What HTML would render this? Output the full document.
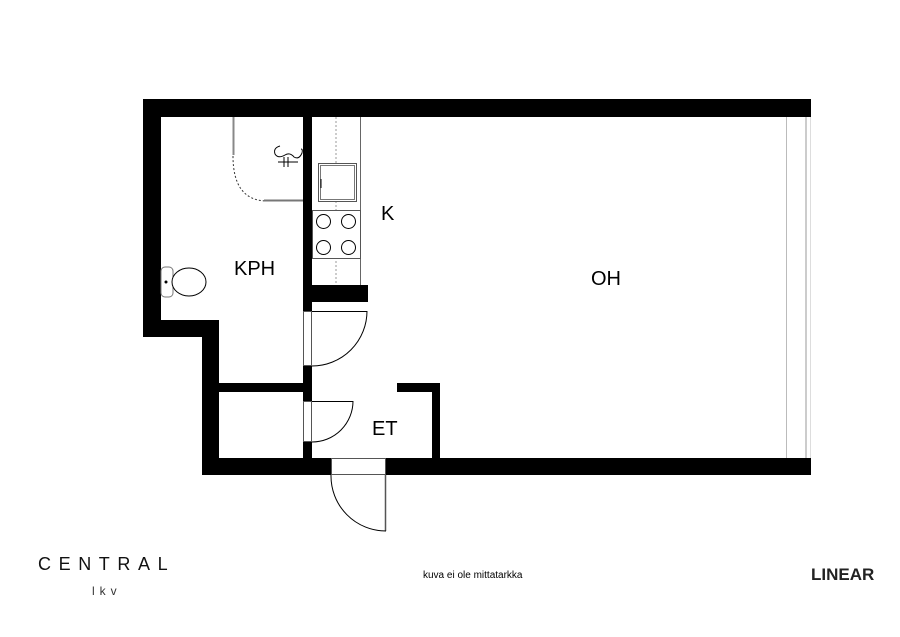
<!DOCTYPE html>
<html><head><meta charset="utf-8"><style>
html,body{margin:0;padding:0;background:#fff;width:900px;height:637px;overflow:hidden}
svg{display:block}
text{font-family:"Liberation Sans",sans-serif}
</style></head><body>
<svg width="900" height="637" viewBox="0 0 900 637" xmlns="http://www.w3.org/2000/svg">
<rect width="900" height="637" fill="#fff"/>
<g fill="#000">
<rect x="143" y="99" width="668" height="18"/>
<rect x="143" y="99" width="18" height="238"/>
<rect x="143" y="320" width="76" height="17"/>
<rect x="202" y="320" width="17" height="155"/>
<rect x="202" y="458" width="129" height="17"/>
<rect x="386" y="458" width="425" height="17"/>
<rect x="303" y="117" width="9" height="194"/>
<rect x="303" y="366" width="9" height="35"/>
<rect x="303" y="442" width="9" height="16"/>
<rect x="218" y="383" width="85" height="9"/>
<rect x="312" y="285" width="56" height="17"/>
<rect x="397" y="383" width="43" height="9"/>
<rect x="432" y="383" width="8" height="75"/>
</g>
<rect x="786" y="117" width="24" height="341" fill="#fff"/>
<line x1="786.5" y1="117" x2="786.5" y2="458" stroke="#bbb" stroke-width="1"/>
<line x1="806" y1="117" x2="806" y2="458" stroke="#ccc" stroke-width="2"/>
<line x1="810.5" y1="117" x2="810.5" y2="458" stroke="#ddd" stroke-width="1"/>
<g fill="none" stroke="#000" stroke-width="1">
<rect x="303.5" y="311.5" width="8" height="54" fill="#fff" stroke="#555"/>
<line x1="312" y1="311.5" x2="367" y2="311.5"/>
<path d="M367 311 A55 55 0 0 1 312 366"/>
<rect x="303.5" y="401.5" width="8" height="40" fill="#fff" stroke="#555"/>
<line x1="312" y1="401.5" x2="353" y2="401.5"/>
<path d="M353 401 A41 41 0 0 1 312 442"/>
<rect x="331.5" y="458.5" width="54" height="16" fill="#fff" stroke="#555"/>
<line x1="385.5" y1="475" x2="385.5" y2="531" stroke="#555" stroke-width="1.5"/>
<path d="M331 475 A55 55 0 0 0 386 531"/>
</g>
<g fill="none" stroke="#666" stroke-width="1">
<line x1="360.5" y1="117" x2="360.5" y2="285"/>
<line x1="336" y1="117" x2="336" y2="285" stroke="#999" stroke-dasharray="2,2"/>
<rect x="318.5" y="163.5" width="38" height="38" fill="#fff" stroke="#555"/>
<rect x="320.5" y="165.5" width="34" height="34" stroke="#777"/>
<line x1="321" y1="179" x2="321" y2="188" stroke="#000"/>
<rect x="312.5" y="210.5" width="48" height="48" fill="#fff" stroke="#555"/>
<circle cx="323.5" cy="221.5" r="7" stroke="#000"/>
<circle cx="348.5" cy="221.5" r="7" stroke="#000"/>
<circle cx="323.5" cy="247.5" r="7" stroke="#000"/>
<circle cx="348.5" cy="247.5" r="7" stroke="#000"/>
</g>
<g fill="none" stroke="#555">
<line x1="233.5" y1="117" x2="233.5" y2="155" stroke="#888" stroke-width="2"/>
<path d="M233 156 Q233 200 266 201" stroke-dasharray="2,2" stroke="#333"/>
<line x1="264" y1="200.5" x2="303" y2="200.5" stroke="#777" stroke-width="2"/>
<path d="M280 146 q-7 2 -5 8 q3 5 10 1 q5 -3 9 2 q5 3 8 -4 q1 -4 -1 -4" stroke="#000"/>
<line x1="284" y1="157" x2="284" y2="167" stroke="#000"/>
<line x1="288" y1="157" x2="288" y2="167" stroke="#000"/>
<line x1="278" y1="162" x2="298" y2="162" stroke="#000"/>
</g>
<g fill="#fff" stroke="#000" stroke-width="1">
<rect x="161" y="267" width="12" height="30" rx="4" stroke="#777"/>
<ellipse cx="189" cy="282" rx="17" ry="14"/>
<circle cx="166" cy="282" r="1" fill="#000"/>
</g>
<g font-size="20" fill="#000">
<text x="234" y="275">KPH</text>
<text x="381" y="220">K</text>
<text x="591" y="285">OH</text>
<text x="372" y="435">ET</text>
</g>
<text x="38" y="570" font-size="18" letter-spacing="7.6" fill="#111">CENTRAL</text>
<text x="92" y="595" font-size="12" letter-spacing="5" fill="#333">lkv</text>
<text x="423" y="578" font-size="10" fill="#000">kuva ei ole mittatarkka</text>
<text x="811" y="580" font-size="17" font-weight="bold" fill="#222">LINEAR</text>
</svg>
</body></html>
